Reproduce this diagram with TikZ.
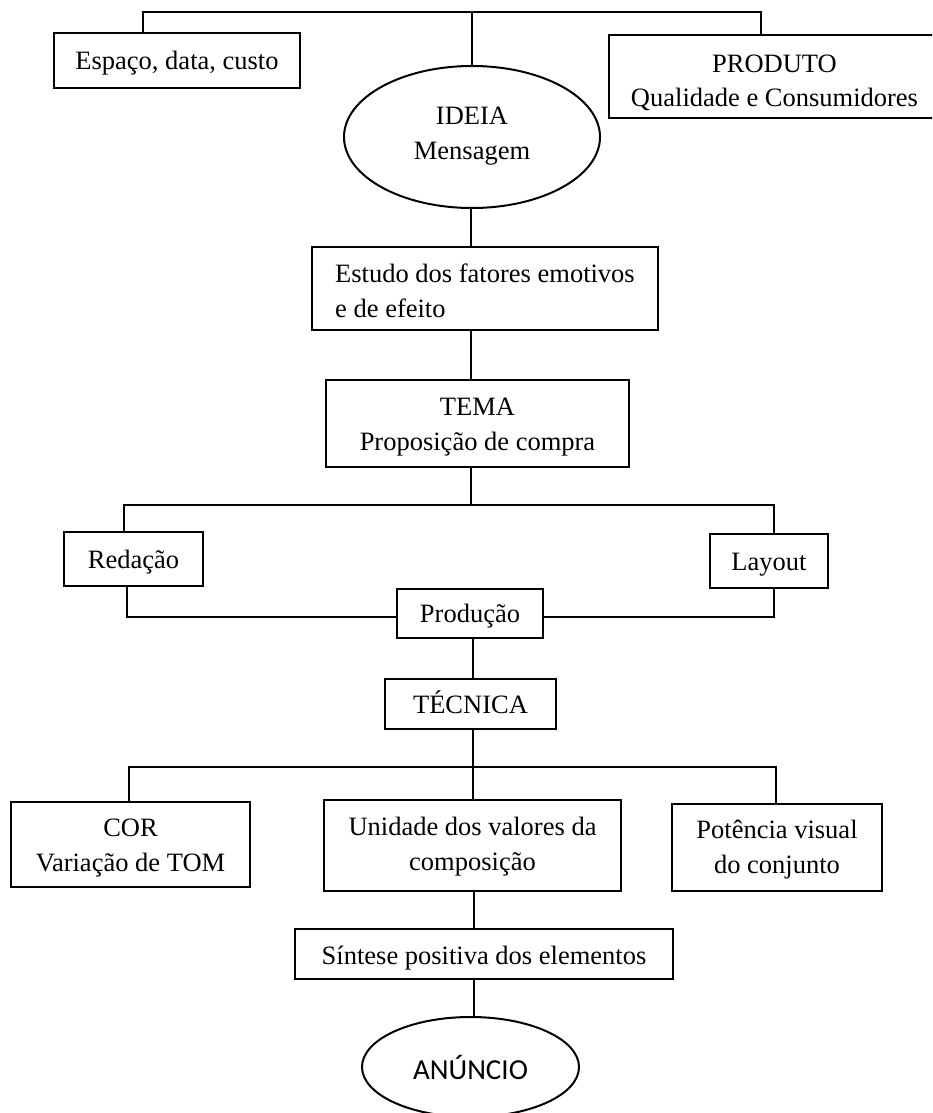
\documentclass[tikz,border=0pt]{standalone}
\usepackage{fontspec}
\setmainfont{Liberation Serif}
\newfontfamily\annfont{Carlito}
\usetikzlibrary{shapes.geometric}
% invisible struts: height of the first line, depth of the last one
\newcommand\strutup[1]{\rule{0pt}{#1}}
\newcommand\strutdn[1]{\rule[-#1]{0pt}{#1}}
\begin{document}
\begin{tikzpicture}[x=1pt,y=-1pt,
  every node/.style={font=\fontsize{26.5}{35}\selectfont},
  plainbox/.style={draw, line width=2.2pt, rectangle, inner sep=0pt, align=center},
  oval/.style={draw, line width=2pt, ellipse, inner sep=0pt, align=center},
  link/.style={draw, line width=2pt}]
\useasboundingbox (0,0) rectangle (932,1113);
\clip (0,0) rectangle (932,1113);

% header row
\node[plainbox, minimum width=246pt, minimum height=55pt] (esp) at (177,60.5)
  {\strutup{25pt}Espaço, data, custo\strutdn{7pt}};
\node[plainbox, minimum width=331pt, minimum height=83pt] (prod) at (774.5,76.5)
  {\strutup{33pt}PRODUTO\\Qualidade e Consumidores\strutdn{7pt}};
\node[oval, minimum width=256pt, minimum height=142pt] (ideia) at (472,137)
  {\strutup{22pt}IDEIA\\Mensagem\strutdn{12pt}};

% main column
\node[plainbox, minimum width=346pt, minimum height=83pt, align=left] (estudo) at (485,288.5)
  {\strutup{30pt}Estudo dos fatores emotivos\\e de efeito\strutdn{7pt}};
\node[plainbox, minimum width=303pt, minimum height=87pt] (tema) at (477.5,423.5)
  {\strutup{25pt}TEMA\\Proposição de compra\strutdn{7pt}};
\node[plainbox, minimum width=139pt, minimum height=54pt] (red) at (133.5,559)
  {\strutup{25pt}Redação\strutdn{7pt}};
\node[plainbox, minimum width=118pt, minimum height=54pt] (lay) at (769,561)
  {\strutup{25pt}Layout\strutdn{7pt}};
\node[plainbox, minimum width=146pt, minimum height=49pt] (prodc) at (470,613.5)
  {\strutup{25pt}Produção\strutdn{7pt}};
\node[plainbox, minimum width=171pt, minimum height=50pt] (tec) at (470.5,704)
  {\strutup{25pt}TÉCNICA\strutdn{7pt}};

% technique row
\node[plainbox, minimum width=239pt, minimum height=85pt] (cor) at (130.5,844.5)
  {\strutup{25pt}COR\\Variação de TOM\strutdn{7pt}};
\node[plainbox, minimum width=297pt, minimum height=91pt] (uni) at (472.5,845.5)
  {\strutup{25pt}Unidade dos valores da\\composição\strutdn{11pt}};
\node[plainbox, minimum width=210pt, minimum height=87pt] (pot) at (777,847.5)
  {\strutup{24pt}Potência visual\\do conjunto\strutdn{7pt}};
\node[plainbox, minimum width=378pt, minimum height=50pt] (sin) at (484,954)
  {\strutup{27pt}Síntese positiva dos elementos\strutdn{7pt}};
\node[oval, minimum width=217pt, minimum height=100pt, font=\annfont\fontsize{29}{35}\selectfont] (anu) at (470.5,1067) {ANÚNCIO};

% junction points
\coordinate (j0) at (143,12);
\coordinate (j1) at (761,12);
\coordinate (spine) at (471,0);
\coordinate (f1) at (471,505);
\coordinate (f1l) at (124,505);
\coordinate (f1r) at (774,505);
\coordinate (p1l) at (127,617);
\coordinate (p1r) at (774,617);
\coordinate (s2) at (473,767);
\coordinate (f2l) at (129,767);
\coordinate (f2r) at (776,767);
\coordinate (s3) at (474,0);

% connectors
\draw[link] (j0 |- esp.north) -- (j0) -- (j1) -- (j1 |- prod.north);
\draw[link] (ideia.north) -- (ideia.north |- j0);
\draw[link] (ideia.south -| spine) -- (estudo.north -| spine);
\draw[link] (estudo.south -| spine) -- (tema.north -| spine);
\draw[link] (tema.south -| f1) -- (f1);
\draw[link] (red.north -| f1l) -- (f1l) -- (f1r) -- (lay.north -| f1r);
\draw[link] (red.south -| p1l) -- (p1l) -- (prodc.west |- p1l);
\draw[link] (lay.south -| p1r) -- (p1r) -- (prodc.east |- p1r);
\draw[link] (prodc.south -| s2) -- (tec.north -| s2);
\draw[link] (tec.south -| s2) -- (s2);
\draw[link] (cor.north -| f2l) -- (f2l) -- (f2r) -- (pot.north -| f2r);
\draw[link] (s2) -- (uni.north -| s2);
\draw[link] (uni.south -| s3) -- (sin.north -| s3);
\draw[link] (sin.south -| s3) -- (anu.north -| s3);
\end{tikzpicture}
\end{document}
